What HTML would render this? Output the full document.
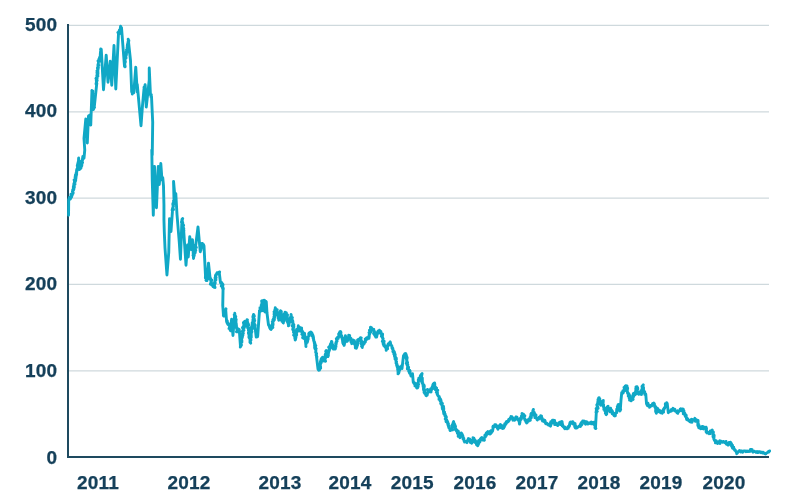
<!DOCTYPE html>
<html><head><meta charset="utf-8"><title>Chart</title>
<style>
html,body{margin:0;padding:0;background:#fff;}
body{width:802px;height:500px;overflow:hidden;position:relative;}
svg{position:absolute;left:0;top:0;display:block}
text{font-family:"Liberation Sans",sans-serif;font-weight:bold;font-size:19px;letter-spacing:0.2px;fill:#15405a;stroke:#15405a;stroke-width:0.25px}
</style></head><body>
<svg width="802" height="500" viewBox="0 0 802 500">
<rect width="802" height="500" fill="#ffffff"/>
<g stroke="#cfd9dd" stroke-width="1.3" fill="none">
<line x1="68" x2="769" y1="25.4" y2="25.4"/>
<line x1="68" x2="769" y1="111.8" y2="111.8"/>
<line x1="68" x2="769" y1="198.1" y2="198.1"/>
<line x1="68" x2="769" y1="284.4" y2="284.4"/>
<line x1="68" x2="769" y1="370.8" y2="370.8"/>
</g>
<path d="M68 24 V457 H769" stroke="#1e4a5f" stroke-width="2" fill="none" stroke-linejoin="miter"/>
<path d="M68.55 215.2 L68.70 199.5 L69.23 198.8 L69.23 198.5 L69.60 197.3 L70.19 199.2 L70.45 198.8 L70.75 197.7 L71.35 195.0 L71.54 197.1 L70.97 194.2 L72.00 195.7 L71.92 194.3 L72.19 195.1 L72.05 194.9 L72.57 194.1 L73.20 192.6 L73.10 193.4 L72.43 191.6 L72.78 191.4 L73.03 192.0 L72.65 190.3 L73.63 189.8 L73.34 188.9 L72.75 189.8 L73.97 188.9 L73.42 186.1 L73.33 187.8 L73.73 188.0 L74.19 185.3 L74.34 187.2 L74.21 187.5 L73.65 185.6 L74.03 185.6 L73.87 183.9 L74.27 182.9 L73.79 184.9 L74.79 181.3 L75.02 184.1 L74.10 179.8 L75.00 181.5 L74.79 181.4 L75.56 179.2 L75.31 181.2 L75.51 179.8 L75.66 180.8 L75.72 179.1 L76.10 176.2 L75.88 178.6 L75.50 174.8 L75.11 177.5 L76.32 175.8 L76.64 174.0 L76.02 175.6 L76.43 174.9 L76.71 174.1 L76.17 172.8 L76.43 174.2 L76.50 172.5 L76.97 171.0 L76.50 173.2 L76.71 169.5 L76.73 170.4 L76.52 171.6 L76.51 171.0 L77.36 168.2 L77.54 169.9 L77.34 168.5 L77.60 167.8 L77.56 166.9 L77.54 167.3 L77.85 167.0 L77.84 167.9 L77.65 164.7 L78.25 164.6 L78.13 163.8 L77.26 165.8 L78.24 161.9 L78.33 163.1 L78.58 161.7 L78.19 162.0 L78.63 163.5 L78.54 160.1 L78.64 160.0 L78.75 159.7 L78.64 158.0 L78.45 161.9 L79.38 161.2 L79.68 162.7 L79.03 160.3 L79.50 162.4 L78.53 164.5 L78.84 165.0 L78.90 165.0 L80.06 164.9 L79.74 165.1 L79.81 166.7 L80.45 166.1 L79.80 167.9 L79.54 169.5 L79.98 168.8 L80.45 168.4 L80.25 168.7 L80.62 168.5 L79.87 166.0 L80.20 168.0 L80.11 165.6 L81.11 167.7 L80.55 167.5 L80.58 165.3 L81.79 165.7 L81.89 163.4 L81.30 165.0 L82.05 161.1 L81.36 162.8 L81.88 162.9 L81.42 163.6 L82.53 162.7 L81.98 162.6 L82.57 159.6 L82.32 160.1 L82.28 161.1 L82.50 159.0 L82.85 156.5 L83.83 156.4 L84.00 158.2 L84.75 150.0 L84.00 138.5 L85.80 119.0 L87.30 143.0 L88.50 116.0 L88.61 116.1 L89.53 115.5 L89.55 115.2 L90.75 125.0 L91.95 90.5 L92.54 91.1 L92.49 91.4 L92.79 93.7 L92.56 91.7 L91.84 90.8 L92.76 91.2 L92.39 92.5 L92.45 94.2 L92.62 94.2 L92.61 97.5 L93.06 96.5 L92.22 96.2 L93.21 96.3 L92.61 95.5 L93.23 99.1 L93.30 98.4 L92.57 99.1 L92.85 97.5 L92.95 100.9 L92.93 99.3 L93.25 99.1 L93.51 100.0 L93.56 99.5 L92.72 101.6 L93.45 103.7 L93.27 101.0 L93.50 104.1 L94.05 105.2 L93.94 105.6 L94.14 106.8 L93.14 106.3 L94.53 107.3 L93.88 106.4 L93.43 109.5 L94.20 107.7 L96.75 83.7 L96.00 83.7 L96.86 83.8 L96.41 81.7 L96.15 84.5 L96.62 82.4 L96.29 80.2 L96.72 81.1 L96.37 80.2 L96.37 78.6 L96.62 80.3 L96.31 77.7 L97.17 80.6 L95.98 78.5 L97.03 78.0 L97.08 78.7 L97.18 76.2 L97.45 73.5 L96.82 75.6 L97.89 76.3 L96.96 72.6 L97.37 74.1 L96.97 72.8 L97.84 75.1 L96.95 70.8 L97.95 73.8 L97.94 73.4 L97.79 69.7 L97.45 67.9 L98.02 69.7 L97.83 68.4 L98.09 69.3 L98.09 69.0 L98.39 67.4 L97.80 67.3 L98.20 66.0 L98.33 66.1 L98.40 65.7 L97.89 65.1 L98.88 65.2 L98.45 64.8 L98.20 64.3 L98.68 61.0 L99.01 61.6 L97.98 61.0 L99.48 60.5 L98.36 60.8 L99.18 59.8 L99.11 60.8 L99.39 61.5 L99.41 59.2 L99.62 60.7 L99.30 58.2 L98.98 59.0 L99.81 57.1 L100.05 56.4 L100.10 57.0 L100.64 55.5 L99.86 56.7 L100.86 54.9 L100.52 53.8 L100.28 54.9 L100.46 51.9 L100.94 53.2 L100.61 53.2 L100.92 52.8 L100.84 51.5 L101.20 50.5 L100.78 49.0 L100.56 49.8 L101.25 49.2 L103.50 89.7 L106.20 55.2 L108.00 82.2 L110.25 61.2 L111.75 85.2 L114.00 45.5 L115.80 89.0 L118.50 33.5 L117.93 32.5 L119.19 31.8 L119.17 32.8 L118.86 31.4 L119.86 33.4 L119.53 32.0 L119.39 30.0 L120.72 30.7 L120.56 27.1 L120.10 29.6 L120.61 26.2 L120.71 27.2 L121.50 27.5 L124.50 66.5 L124.67 66.0 L124.92 66.3 L125.17 66.8 L124.57 63.0 L124.41 62.8 L124.91 63.5 L124.34 63.6 L125.04 61.1 L124.99 61.8 L124.88 61.5 L125.39 61.9 L125.05 60.5 L124.59 59.9 L125.47 58.5 L125.60 57.4 L125.04 58.8 L125.53 57.9 L125.97 58.2 L125.45 57.1 L125.84 56.5 L126.05 57.1 L125.46 54.8 L125.77 54.8 L126.09 53.4 L126.25 53.6 L126.11 54.4 L126.21 55.6 L126.46 54.1 L125.68 53.6 L126.64 50.9 L127.41 52.0 L127.19 51.2 L127.13 51.2 L126.76 50.4 L126.45 49.9 L126.55 50.2 L127.82 48.6 L127.10 47.6 L127.17 48.7 L127.33 45.9 L127.58 47.1 L128.06 45.0 L127.44 47.4 L127.33 45.2 L127.29 46.1 L127.44 44.7 L127.99 42.6 L127.77 44.5 L128.17 41.6 L128.03 41.9 L128.43 43.3 L128.85 40.4 L128.43 40.5 L128.16 39.2 L128.25 39.5 L130.50 60.5 L131.70 92.0 L132.94 90.1 L132.26 94.0 L132.63 90.8 L133.80 92.7 L135.75 67.2 L137.25 92.0 L137.25 84.5 L141.00 125.7 L142.50 105.5 L144.00 89.0 L143.97 89.9 L144.17 88.0 L144.01 87.5 L144.02 87.2 L144.87 86.6 L144.81 86.7 L145.11 84.7 L145.20 85.2 L146.25 107.0 L149.25 80.0 L149.25 68.0 L150.45 95.0 L151.34 94.8 L150.93 96.6 L150.96 95.6 L151.50 96.5 L152.70 122.0 L152.25 155.0 L151.80 150.0 L152.25 180.0 L153.30 215.2 L154.50 166.5 L156.45 207.7 L158.25 166.5 L159.30 184.5 L160.80 163.5 L162.00 180.0 L162.75 177.7 L163.50 186.0 L163.95 205.0 L163.95 220.0 L164.30 232.0 L165.00 248.0 L166.95 275.0 L168.75 252.5 L169.50 218.7 L171.00 231.5 L172.50 210.5 L172.43 209.0 L172.85 209.8 L173.51 209.6 L172.79 207.7 L172.11 210.2 L173.00 206.9 L173.16 207.2 L173.22 206.2 L173.45 206.1 L172.86 203.4 L172.87 205.0 L173.61 203.3 L173.68 203.3 L173.62 204.3 L173.53 203.6 L173.63 200.9 L173.50 202.5 L174.09 201.4 L174.11 200.0 L173.71 202.6 L174.00 200.0 L173.55 181.5 L174.75 195.0 L174.95 194.8 L175.40 196.0 L175.26 194.9 L175.80 193.5 L177.00 214.5 L179.25 242.0 L180.45 259.2 L181.95 219.5 L182.02 220.0 L182.68 218.5 L181.48 222.0 L182.20 222.3 L182.47 222.5 L182.32 220.8 L182.24 224.7 L182.01 222.4 L182.76 222.6 L182.87 226.4 L183.57 225.3 L182.58 224.9 L183.14 226.6 L182.53 225.4 L183.17 227.3 L183.07 226.1 L183.41 227.4 L183.27 228.4 L183.80 228.6 L183.30 231.0 L183.22 230.9 L183.90 230.6 L183.52 232.7 L183.75 231.5 L186.00 265.2 L187.50 245.0 L188.25 257.0 L189.75 236.7 L191.25 249.5 L192.45 239.7 L193.50 258.5 L193.66 257.9 L193.67 255.9 L193.90 256.3 L193.04 255.3 L194.02 256.0 L194.36 254.9 L193.84 254.7 L193.54 255.0 L194.24 253.3 L194.27 254.4 L194.15 253.3 L195.17 252.8 L195.38 251.2 L194.67 250.8 L195.16 251.2 L194.03 249.1 L195.23 250.7 L195.80 250.2 L195.18 249.2 L195.31 249.5 L194.75 249.8 L194.53 247.1 L195.27 247.9 L196.30 247.5 L195.48 246.0 L195.33 245.0 L195.75 245.0 L198.00 227.0 L200.25 251.7 L200.59 250.6 L200.45 250.8 L200.88 250.1 L200.55 250.3 L200.63 250.1 L201.36 247.6 L200.48 248.9 L201.09 249.1 L201.69 245.7 L201.49 247.3 L201.16 246.6 L201.70 244.2 L201.28 245.5 L201.52 245.3 L201.42 245.2 L200.86 243.9 L201.75 243.5 L202.40 243.4 L202.35 245.7 L203.51 244.5 L203.54 244.6 L203.64 247.2 L204.00 245.7 L205.50 276.0 L205.38 277.8 L205.80 277.2 L206.45 277.6 L205.90 280.2 L206.53 277.9 L206.70 277.9 L206.56 280.1 L206.21 280.6 L207.00 280.5 L208.50 263.2 L210.00 277.5 L209.51 278.8 L210.03 277.7 L210.72 278.6 L210.34 279.6 L211.26 280.6 L210.90 280.5 L210.98 282.3 L211.80 280.1 L210.33 284.2 L211.42 282.5 L211.64 284.0 L211.50 283.5 L211.38 283.6 L212.51 284.4 L211.99 283.6 L211.92 285.1 L212.83 285.3 L213.02 286.5 L213.44 285.5 L213.63 286.8 L214.20 287.2 L214.57 286.8 L215.02 287.5 L214.24 284.9 L215.24 283.1 L214.53 284.0 L214.07 284.9 L214.67 284.3 L214.87 281.4 L214.08 284.1 L214.98 283.2 L215.14 282.4 L214.94 282.8 L214.94 281.8 L214.84 281.2 L215.93 279.8 L215.24 279.9 L215.06 277.7 L215.82 278.6 L215.72 278.4 L216.13 277.4 L215.43 276.5 L215.75 277.4 L215.56 275.7 L216.11 275.2 L215.45 275.4 L216.00 274.5 L216.45 274.6 L217.06 272.7 L216.99 273.1 L217.50 273.0 L218.48 273.9 L218.57 272.3 L219.65 272.0 L219.30 273.0 L220.50 282.7 L221.48 282.5 L221.82 282.6 L222.00 283.5 L221.29 286.2 L222.37 284.0 L221.99 284.9 L222.38 287.7 L222.78 284.2 L222.98 284.6 L222.67 286.4 L222.75 288.9 L222.11 286.5 L223.17 289.8 L223.31 288.1 L223.05 289.5 L222.75 305.5 L223.50 316.0 L223.93 316.1 L223.73 312.9 L224.31 315.6 L223.39 315.1 L224.56 313.9 L224.16 315.4 L224.73 312.4 L224.71 313.3 L224.74 313.1 L225.02 311.7 L225.13 311.1 L226.01 308.8 L225.75 310.0 L226.50 320.5 L226.50 321.3 L227.35 321.6 L227.13 320.8 L227.61 322.9 L226.82 322.4 L227.98 324.5 L227.96 323.7 L228.13 324.4 L228.23 323.5 L228.75 325.0 L228.64 324.8 L229.28 324.7 L229.42 325.0 L229.44 325.8 L229.51 328.8 L229.59 327.1 L229.01 328.5 L229.91 328.2 L230.01 328.8 L230.42 330.5 L230.25 330.2 L230.56 330.7 L230.39 329.0 L230.35 328.5 L229.86 328.1 L230.62 327.5 L230.69 326.3 L230.71 327.4 L230.05 328.5 L230.19 325.6 L231.80 326.4 L231.13 322.8 L231.03 325.0 L230.42 324.5 L231.45 324.3 L231.14 323.0 L231.26 323.1 L231.32 322.2 L231.59 319.3 L231.98 321.2 L231.75 320.5 L232.95 335.5 L234.75 313.7 L234.80 313.3 L234.94 315.4 L235.74 316.6 L234.24 314.8 L235.68 317.1 L235.46 317.7 L234.91 316.5 L234.90 318.6 L234.93 316.3 L236.16 320.8 L235.17 318.4 L235.22 319.9 L235.55 321.6 L236.17 319.5 L235.80 320.5 L235.65 321.6 L235.57 322.5 L235.11 320.7 L235.67 321.8 L236.06 323.6 L236.15 324.7 L235.88 323.8 L236.16 323.0 L236.50 326.1 L236.29 325.9 L236.43 327.6 L236.72 327.8 L237.07 327.8 L236.47 327.4 L236.36 327.7 L237.45 330.7 L237.03 329.5 L237.19 331.3 L236.43 331.8 L237.00 331.0 L237.63 330.0 L237.94 331.9 L238.21 329.2 L238.46 329.1 L239.25 329.5 L240.45 346.0 L240.30 347.1 L241.45 345.0 L240.88 345.7 L241.01 343.4 L241.20 345.2 L241.09 344.3 L241.07 343.0 L241.77 342.4 L241.32 340.0 L241.22 341.3 L241.86 340.2 L241.90 342.1 L241.13 339.8 L241.88 341.0 L241.50 338.5 L241.61 337.9 L242.34 337.6 L242.25 337.0 L242.43 336.5 L242.95 335.1 L241.72 334.8 L242.20 334.8 L242.43 333.4 L242.17 334.3 L243.28 333.4 L242.71 333.7 L242.79 332.6 L243.19 331.9 L242.16 331.4 L242.67 331.0 L242.85 331.2 L243.96 330.2 L242.77 328.4 L242.49 327.5 L243.50 326.5 L242.67 327.3 L243.73 325.9 L243.40 326.2 L244.16 326.9 L244.09 328.1 L243.82 325.7 L244.38 326.9 L244.06 324.2 L243.96 324.3 L243.47 323.0 L243.45 322.4 L244.35 323.8 L244.20 322.0 L244.87 321.2 L243.67 323.9 L244.87 325.5 L244.17 326.1 L244.95 325.1 L244.97 325.2 L244.42 326.6 L244.58 324.7 L245.25 326.5 L245.15 325.4 L245.63 326.0 L245.39 325.1 L246.18 324.2 L245.98 325.0 L246.70 323.4 L246.48 322.6 L246.25 324.0 L246.05 323.2 L246.71 323.0 L247.04 319.7 L247.42 320.0 L247.05 320.5 L247.06 320.3 L247.08 321.8 L247.07 322.3 L247.37 323.2 L246.65 323.2 L247.54 324.7 L247.65 322.1 L248.12 325.0 L248.39 323.9 L248.65 325.3 L248.20 325.8 L247.56 326.1 L248.45 328.2 L248.51 329.1 L248.25 328.0 L247.66 327.9 L248.12 328.3 L248.70 328.6 L248.43 330.3 L248.55 330.7 L248.98 331.2 L248.48 332.5 L249.40 330.4 L249.34 332.6 L248.84 331.3 L248.47 333.5 L249.41 333.5 L249.83 335.6 L248.70 334.1 L249.71 336.0 L248.88 336.2 L249.79 337.3 L249.35 337.6 L249.94 337.8 L248.96 337.4 L249.96 338.8 L250.19 339.0 L249.88 338.9 L250.21 339.7 L249.95 342.2 L250.74 343.1 L250.20 341.5 L250.50 341.8 L250.25 342.4 L249.96 339.9 L250.99 340.0 L250.68 339.6 L250.64 338.3 L251.06 336.5 L250.26 337.1 L250.43 336.2 L251.25 337.4 L251.26 334.6 L250.72 336.4 L250.71 333.4 L251.21 333.8 L250.34 333.6 L250.59 333.7 L250.78 334.0 L250.98 331.8 L251.91 331.4 L251.69 332.4 L250.89 331.3 L251.35 329.9 L251.84 329.0 L251.70 329.5 L251.48 328.2 L251.02 327.4 L252.42 328.7 L251.56 327.7 L252.08 324.9 L252.19 327.8 L252.73 327.0 L252.02 326.8 L252.57 326.2 L252.16 323.0 L252.34 322.6 L252.02 324.2 L253.03 321.0 L253.16 323.0 L253.06 320.7 L253.49 323.8 L252.86 320.9 L253.22 320.5 L252.91 321.3 L253.24 318.2 L253.25 318.7 L253.71 319.0 L252.95 319.4 L253.90 318.1 L253.42 316.6 L253.82 318.0 L252.85 316.8 L253.54 314.4 L253.50 315.2 L254.36 316.2 L254.09 315.3 L253.03 317.5 L253.83 316.3 L253.76 317.2 L253.57 318.7 L253.70 319.2 L254.24 318.6 L254.20 319.0 L254.16 321.8 L254.51 320.5 L254.72 320.7 L254.60 320.2 L254.09 321.6 L254.14 324.5 L254.81 324.9 L254.22 325.1 L255.26 325.3 L254.69 324.4 L254.88 327.2 L254.62 325.1 L255.07 326.5 L255.00 326.5 L256.20 337.0 L257.39 336.9 L257.39 336.2 L257.70 336.2 L259.50 310.7 L259.40 311.9 L260.83 311.0 L259.96 308.0 L259.96 307.8 L261.00 308.5 L260.36 308.5 L261.78 308.0 L261.17 305.3 L261.71 304.4 L261.39 305.2 L261.82 305.6 L261.71 304.6 L261.85 303.9 L261.93 302.7 L261.80 301.4 L262.13 305.1 L262.30 301.1 L261.64 301.0 L262.69 300.7 L262.50 301.0 L262.95 310.7 L262.98 310.7 L262.65 308.8 L263.24 310.7 L262.41 307.8 L264.07 306.9 L263.30 306.6 L263.34 307.6 L262.91 306.6 L264.20 305.3 L263.93 305.1 L263.55 303.6 L264.14 305.2 L264.02 303.2 L263.55 304.4 L263.55 304.0 L263.97 302.1 L264.00 300.3 L263.52 300.9 L264.48 301.1 L264.74 300.6 L264.30 300.5 L264.90 311.2 L264.45 309.5 L265.20 311.9 L264.78 310.7 L265.29 310.1 L265.27 309.4 L265.07 309.5 L264.81 306.7 L265.17 308.5 L265.16 305.6 L265.10 305.8 L265.43 305.4 L265.37 304.6 L265.64 304.8 L265.99 304.4 L265.17 304.1 L265.72 302.7 L265.48 303.6 L266.06 301.5 L266.25 301.7 L267.00 313.0 L268.50 325.0 L269.20 325.1 L269.49 325.4 L268.67 324.7 L269.87 328.0 L270.05 327.6 L269.81 328.0 L270.39 328.9 L270.93 329.4 L271.20 328.7 L270.82 326.2 L271.42 329.0 L271.71 326.9 L271.54 326.5 L271.95 326.6 L272.05 327.6 L272.89 327.5 L272.73 326.9 L272.50 324.7 L272.29 324.0 L272.47 323.6 L273.07 325.0 L273.00 322.7 L272.32 321.8 L273.00 321.7 L272.80 320.1 L273.56 318.6 L274.22 320.2 L273.44 319.7 L273.64 320.8 L273.52 318.9 L274.35 317.6 L274.52 318.8 L273.93 316.9 L274.39 315.8 L274.31 314.8 L274.73 316.9 L274.69 314.2 L274.03 314.0 L274.88 312.8 L274.26 315.5 L274.45 312.4 L275.07 314.9 L274.03 311.7 L275.31 311.0 L274.81 313.2 L274.80 310.0 L275.45 308.2 L275.59 308.6 L275.25 309.2 L275.24 307.7 L275.94 310.1 L276.75 310.0 L276.87 311.3 L277.22 309.7 L276.32 312.4 L277.40 313.9 L276.57 313.2 L277.28 312.2 L276.95 314.6 L276.85 313.0 L277.90 314.1 L277.64 313.1 L278.62 315.9 L277.98 316.6 L277.84 315.1 L278.38 316.1 L279.10 317.3 L278.12 318.1 L279.04 319.9 L278.49 318.9 L278.48 317.3 L279.00 319.7 L278.76 320.2 L279.24 317.3 L279.49 318.5 L279.90 318.4 L279.81 316.4 L279.78 315.7 L279.68 316.4 L279.66 316.8 L280.10 316.4 L279.61 314.9 L279.71 313.4 L279.99 313.5 L280.34 315.4 L279.82 313.6 L280.12 311.5 L279.92 312.0 L280.19 313.0 L280.50 310.7 L279.80 312.4 L280.81 311.7 L281.05 312.4 L280.97 313.0 L280.72 311.1 L281.36 311.5 L281.14 314.4 L281.08 313.7 L282.11 317.0 L282.03 315.5 L280.85 314.3 L281.37 316.0 L281.90 316.4 L281.66 319.6 L282.14 318.0 L282.50 318.4 L281.74 320.8 L282.23 319.6 L281.82 320.2 L281.74 318.5 L282.72 321.4 L281.94 321.4 L282.54 321.4 L282.58 320.8 L283.05 322.7 L283.36 323.0 L283.44 321.7 L283.36 320.6 L283.64 320.8 L283.46 320.2 L283.35 319.6 L283.91 321.4 L284.59 319.2 L283.26 319.7 L284.31 318.5 L284.60 319.3 L283.69 317.6 L284.36 315.3 L283.94 316.3 L284.28 314.8 L284.67 314.8 L284.13 313.9 L285.36 315.1 L285.22 313.1 L285.17 313.2 L285.00 312.2 L284.88 313.2 L285.78 313.8 L286.35 312.7 L286.48 316.3 L286.23 316.7 L285.88 314.7 L286.36 314.7 L286.50 316.0 L286.88 316.5 L287.52 314.8 L286.83 319.6 L287.14 318.7 L286.98 318.7 L286.84 318.8 L287.28 319.6 L287.06 320.2 L287.53 320.4 L287.20 321.5 L288.13 321.8 L287.70 322.5 L287.87 321.8 L288.70 323.6 L287.93 323.1 L288.38 324.2 L288.12 323.3 L288.79 324.7 L288.23 324.0 L288.75 325.7 L288.37 325.8 L289.10 324.9 L288.66 324.1 L289.05 323.7 L288.95 323.6 L288.72 323.9 L289.50 322.1 L289.36 322.8 L289.49 321.8 L290.52 321.5 L290.11 319.8 L290.42 318.8 L290.16 320.5 L290.41 317.5 L290.79 319.5 L289.73 318.6 L291.14 316.5 L291.13 315.4 L291.09 318.3 L290.76 316.9 L291.00 315.2 L291.09 314.4 L291.25 316.0 L291.35 317.4 L291.71 317.4 L292.42 317.6 L291.85 318.6 L291.70 318.4 L292.15 320.5 L292.00 318.4 L292.19 319.9 L292.50 320.5 L292.10 322.2 L292.68 322.0 L292.71 320.7 L292.95 322.4 L292.93 322.5 L292.44 321.7 L293.35 324.8 L292.76 324.5 L292.26 326.1 L293.39 324.7 L292.77 326.7 L293.83 324.5 L292.95 327.2 L293.74 327.6 L293.88 325.9 L292.70 329.3 L292.85 329.8 L293.78 330.7 L293.44 332.1 L294.17 330.5 L293.53 330.3 L293.85 331.1 L294.13 330.9 L294.00 332.5 L294.11 333.6 L294.04 335.3 L294.04 335.3 L293.57 335.2 L294.36 335.1 L294.27 334.9 L294.31 335.5 L294.45 334.2 L294.56 336.3 L294.80 336.2 L294.84 338.6 L295.57 337.8 L295.48 339.8 L295.20 339.2 L295.16 340.0 L295.82 338.1 L295.42 337.2 L295.71 337.7 L296.04 336.5 L296.03 336.1 L296.09 337.0 L295.46 336.1 L295.76 333.5 L296.70 334.9 L296.31 332.6 L295.99 332.5 L296.65 332.6 L296.93 332.6 L296.91 330.9 L296.67 332.4 L296.50 331.5 L296.66 329.3 L297.71 329.3 L297.00 329.5 L297.87 328.6 L297.55 328.9 L297.33 329.0 L298.01 328.8 L298.31 325.8 L298.47 327.5 L298.50 326.5 L298.50 328.7 L299.13 328.0 L299.48 327.0 L298.65 327.0 L298.90 329.6 L298.84 329.4 L299.21 330.1 L299.22 330.9 L300.00 331.0 L300.27 331.1 L300.72 330.3 L300.60 330.0 L301.50 329.5 L301.63 327.9 L301.55 329.5 L301.06 331.4 L301.73 330.6 L302.22 330.7 L301.88 332.2 L302.65 331.8 L302.68 332.6 L301.81 334.2 L302.68 333.1 L303.11 335.1 L303.33 336.0 L302.95 335.3 L302.99 337.0 L302.64 337.7 L303.32 337.8 L303.90 335.5 L303.64 338.4 L303.75 338.5 L304.50 333.2 L306.00 346.0 L305.93 344.4 L305.91 346.6 L306.02 342.5 L306.43 342.8 L306.23 343.2 L307.14 342.2 L307.62 341.1 L306.52 341.6 L307.31 342.5 L307.50 340.1 L306.95 338.8 L307.34 341.4 L307.77 338.4 L307.67 340.2 L307.66 336.9 L308.23 338.8 L307.94 339.8 L308.14 336.9 L307.90 338.2 L307.60 337.8 L308.25 336.8 L308.91 335.9 L308.72 333.7 L309.11 334.7 L309.00 334.0 L309.10 333.0 L310.80 332.0 L310.41 333.8 L311.37 332.4 L312.07 333.4 L312.00 334.0 L312.15 335.4 L311.84 335.7 L312.19 335.1 L312.57 334.5 L313.28 336.2 L312.57 334.7 L312.80 336.3 L313.29 338.2 L313.08 338.2 L313.55 339.2 L313.44 337.2 L313.21 338.2 L313.85 340.2 L313.62 340.7 L313.74 340.8 L314.25 341.5 L314.60 342.4 L314.91 344.3 L314.29 342.2 L314.67 342.5 L314.91 346.1 L314.20 342.4 L314.98 343.6 L314.97 345.5 L314.59 347.9 L315.79 345.6 L314.76 347.4 L314.54 345.4 L315.25 345.9 L315.70 348.5 L315.10 348.9 L316.21 348.7 L315.59 348.1 L315.85 350.5 L315.87 350.6 L315.69 352.4 L315.75 351.5 L315.82 351.5 L316.06 352.7 L316.57 354.9 L316.37 353.5 L316.50 354.8 L316.38 355.0 L316.04 355.0 L316.94 356.9 L316.50 356.5 L318.00 369.2 L318.67 370.2 L318.82 370.0 L319.50 370.0 L319.84 367.6 L319.42 369.2 L320.23 367.5 L320.49 366.1 L320.66 368.2 L319.92 366.3 L320.06 366.0 L319.77 365.8 L319.83 366.6 L320.44 364.5 L320.11 363.9 L320.21 364.4 L320.39 362.2 L321.18 362.8 L320.96 361.4 L320.50 361.2 L320.82 361.2 L321.49 361.9 L321.39 359.8 L321.25 361.0 L321.00 359.5 L321.66 358.3 L321.74 358.5 L322.17 357.9 L322.65 358.9 L322.50 357.2 L323.15 357.5 L322.63 359.6 L322.72 360.0 L323.74 359.5 L323.86 360.9 L323.68 359.2 L324.56 358.9 L324.21 360.3 L324.75 361.0 L324.52 361.1 L324.71 359.5 L325.55 361.2 L324.41 358.8 L325.14 358.8 L325.40 358.4 L325.62 357.2 L325.41 357.9 L325.20 356.1 L325.02 356.7 L325.24 355.3 L325.85 353.5 L325.69 354.5 L325.15 354.9 L325.94 353.4 L325.46 353.9 L326.05 353.3 L326.49 353.4 L326.91 352.1 L326.01 351.0 L326.25 350.5 L326.00 350.6 L325.75 351.5 L326.80 351.9 L326.61 353.5 L326.61 354.5 L326.25 353.4 L326.81 353.2 L327.46 356.0 L327.58 353.9 L327.41 356.0 L327.51 356.0 L327.75 356.5 L327.14 355.4 L328.42 355.4 L327.89 356.5 L328.00 353.7 L328.30 354.9 L328.39 352.9 L328.53 352.8 L327.84 352.1 L328.80 352.1 L328.54 350.4 L328.52 351.9 L329.54 349.8 L329.23 350.8 L329.55 348.5 L328.80 347.3 L329.60 349.3 L328.91 347.0 L329.25 347.5 L328.67 347.2 L329.81 347.2 L329.98 345.7 L330.06 346.4 L330.70 345.7 L330.35 344.2 L330.86 343.7 L330.82 343.4 L330.83 343.5 L330.95 344.6 L331.47 343.9 L331.26 343.3 L331.50 341.5 L331.93 342.9 L331.89 341.8 L331.91 342.8 L331.78 344.7 L331.53 342.1 L332.09 343.9 L332.70 344.8 L332.74 347.0 L332.48 346.2 L333.43 346.8 L332.29 348.0 L333.80 348.0 L332.75 348.4 L333.70 347.8 L333.30 349.0 L333.75 349.0 L334.62 348.1 L335.30 347.7 L335.25 349.0 L335.45 348.5 L335.19 346.7 L334.93 348.2 L335.04 349.1 L335.68 345.3 L336.03 346.5 L335.75 345.1 L335.70 344.8 L336.37 342.4 L336.14 344.3 L336.26 342.9 L336.22 343.0 L335.67 343.6 L336.01 342.3 L337.08 341.2 L336.54 339.9 L337.03 339.9 L336.75 340.0 L336.32 338.6 L337.04 339.7 L337.81 338.4 L337.46 337.4 L337.98 338.0 L338.43 336.9 L338.25 337.0 L338.27 338.6 L337.80 337.9 L338.65 337.0 L338.83 335.2 L338.65 334.0 L339.81 333.7 L339.36 334.8 L339.40 332.6 L340.54 331.5 L340.07 332.9 L340.20 331.7 L339.94 331.7 L340.76 334.1 L340.97 332.2 L340.96 332.6 L340.68 333.2 L341.14 335.1 L340.78 336.2 L341.74 337.2 L341.54 336.1 L341.43 335.8 L341.65 335.7 L342.26 337.7 L342.18 339.0 L342.00 338.5 L342.06 338.6 L342.39 339.1 L342.75 337.9 L342.40 338.8 L342.55 340.8 L342.86 343.0 L343.50 343.3 L343.35 341.7 L343.22 344.0 L343.29 343.2 L343.51 343.6 L344.18 344.1 L343.95 344.5 L344.12 345.4 L344.52 343.7 L343.90 342.7 L344.07 343.6 L344.18 342.9 L344.27 343.4 L345.37 341.9 L345.48 339.5 L344.35 339.2 L345.42 340.2 L344.47 338.8 L345.27 338.4 L345.40 337.6 L345.41 335.7 L345.75 337.0 L346.53 339.3 L345.85 337.6 L346.72 338.8 L346.05 339.6 L346.74 339.5 L347.33 341.3 L347.53 340.8 L347.25 340.7 L348.04 339.9 L347.81 339.4 L347.51 340.2 L347.39 338.1 L348.25 338.5 L348.67 337.6 L348.67 335.3 L348.78 337.0 L349.76 337.3 L348.93 335.5 L349.50 335.5 L349.67 335.4 L349.43 337.1 L349.50 338.0 L350.19 338.3 L350.96 338.4 L350.23 338.1 L350.76 339.4 L350.66 338.0 L350.93 339.1 L350.84 341.7 L351.03 340.7 L351.38 339.2 L351.28 342.4 L351.07 341.9 L351.95 342.6 L352.13 343.2 L351.75 343.7 L351.76 341.2 L352.12 343.1 L352.06 340.7 L352.00 343.1 L352.27 340.4 L353.12 340.4 L352.28 341.1 L353.25 340.0 L353.19 342.0 L354.22 340.4 L353.27 341.4 L353.64 341.4 L353.96 341.5 L354.38 343.9 L355.22 342.1 L354.63 343.0 L354.75 344.5 L355.23 345.0 L355.30 345.1 L355.35 348.0 L355.63 345.3 L355.55 346.0 L356.00 347.5 L356.39 347.5 L356.25 348.2 L355.88 347.6 L356.37 348.2 L356.40 348.0 L356.90 346.9 L356.34 343.7 L357.58 344.2 L357.53 342.9 L357.50 345.5 L357.25 344.6 L357.66 343.4 L357.98 343.3 L357.57 342.2 L358.13 341.4 L357.62 339.8 L358.02 340.6 L357.57 340.2 L358.50 340.0 L358.73 339.3 L358.39 340.0 L359.66 338.6 L360.26 339.0 L359.72 339.2 L360.45 337.7 L360.41 338.9 L361.22 337.9 L360.39 338.6 L360.48 339.3 L361.05 341.2 L361.15 342.1 L361.48 340.5 L360.99 341.0 L361.27 342.0 L361.12 343.8 L361.43 343.5 L361.11 342.3 L361.78 343.9 L361.89 344.9 L361.63 345.1 L361.50 346.0 L361.85 344.7 L361.87 345.1 L361.95 346.3 L362.25 347.5 L362.15 347.0 L362.00 346.1 L362.52 346.2 L362.27 346.0 L363.37 344.3 L363.34 342.5 L363.72 344.3 L363.97 342.2 L363.72 343.4 L364.28 343.5 L364.50 342.2 L364.55 341.8 L364.99 341.9 L365.35 342.1 L365.31 339.8 L365.48 340.9 L366.05 339.9 L365.27 338.9 L366.38 338.8 L366.23 338.3 L366.75 337.7 L367.20 339.2 L367.47 337.6 L368.25 338.5 L367.94 338.4 L369.25 336.5 L368.99 338.4 L368.93 337.9 L369.27 334.3 L369.11 336.8 L369.52 333.1 L368.96 336.0 L369.56 334.2 L369.80 333.5 L369.75 333.2 L369.03 332.7 L370.51 331.1 L370.33 332.0 L370.60 332.4 L369.82 331.3 L369.42 330.2 L370.63 329.5 L370.46 327.1 L370.50 328.7 L371.46 329.9 L371.15 328.4 L371.45 327.7 L373.10 330.5 L372.75 330.2 L373.78 329.3 L373.56 331.2 L374.25 331.0 L373.57 333.6 L374.58 331.9 L375.32 334.6 L374.80 335.1 L375.40 334.5 L375.14 334.5 L374.97 334.3 L376.01 333.7 L374.57 335.0 L375.49 336.3 L376.33 336.7 L375.75 337.0 L375.81 336.4 L376.07 335.2 L376.33 335.0 L376.57 337.1 L377.33 333.6 L377.07 334.9 L377.24 334.2 L377.63 333.7 L377.25 332.5 L378.15 333.2 L378.00 331.2 L378.75 330.6 L378.57 331.9 L379.92 331.2 L379.50 330.2 L379.29 332.0 L380.20 331.1 L380.33 331.6 L380.53 333.3 L380.90 331.4 L380.89 332.8 L380.54 332.8 L381.16 332.6 L380.72 333.2 L381.75 334.7 L381.40 336.4 L382.17 335.0 L382.59 334.1 L382.44 336.0 L382.40 336.8 L382.39 337.9 L381.93 336.4 L383.16 338.7 L382.92 338.7 L383.01 339.9 L382.34 341.3 L382.97 341.0 L382.81 340.9 L382.85 340.9 L384.16 341.1 L383.47 344.5 L383.19 344.0 L382.97 341.6 L384.35 344.4 L383.50 344.7 L384.00 345.2 L383.84 345.5 L384.36 344.7 L384.36 346.2 L384.54 346.1 L385.67 347.7 L386.15 347.7 L385.68 346.7 L385.74 347.7 L386.24 349.4 L386.25 349.7 L386.21 350.4 L386.52 347.6 L386.50 348.7 L387.60 348.8 L387.26 346.0 L386.54 348.0 L387.37 346.7 L388.15 344.6 L387.62 345.8 L388.23 345.6 L388.38 345.5 L387.87 344.6 L388.50 343.7 L389.00 343.5 L390.20 341.9 L389.44 343.8 L390.40 342.5 L390.75 344.5 L390.73 345.0 L390.81 345.0 L391.32 345.2 L391.83 345.7 L391.82 346.7 L392.47 347.8 L392.27 348.5 L392.07 348.2 L392.86 348.4 L392.64 349.5 L393.00 349.7 L392.55 348.9 L393.70 351.1 L392.91 351.6 L393.69 351.5 L393.88 351.2 L393.57 352.5 L394.37 351.9 L393.85 354.0 L394.70 353.1 L394.38 355.2 L394.54 356.7 L395.23 354.5 L395.08 355.9 L394.71 356.6 L395.17 355.9 L395.01 359.0 L395.64 359.4 L395.80 357.4 L395.50 359.6 L396.00 359.5 L396.24 357.9 L396.37 359.4 L396.24 359.1 L395.82 360.7 L396.57 361.8 L396.14 361.9 L396.02 363.2 L396.99 364.0 L397.24 365.7 L397.10 364.9 L396.58 365.0 L397.40 367.0 L396.85 365.7 L397.61 368.0 L397.50 367.0 L397.86 366.3 L397.69 369.9 L397.64 368.9 L398.32 368.4 L398.04 371.6 L398.41 369.9 L398.48 370.2 L397.90 371.8 L398.37 370.4 L398.61 372.8 L398.06 373.8 L398.70 373.0 L398.58 373.0 L399.07 372.1 L398.99 370.5 L399.30 369.8 L399.13 369.6 L399.20 370.2 L399.33 370.7 L399.81 369.9 L399.74 367.5 L399.81 367.2 L400.78 367.2 L400.20 367.0 L401.17 366.9 L400.41 368.1 L401.54 365.8 L401.92 366.2 L402.00 368.5 L403.50 355.7 L404.03 356.4 L404.15 354.8 L404.51 354.9 L404.86 353.7 L405.13 355.1 L405.75 353.5 L405.37 354.4 L405.36 353.8 L406.23 354.8 L405.84 355.8 L405.97 356.6 L406.28 356.9 L405.45 357.5 L406.62 356.2 L407.19 357.9 L406.25 358.3 L406.75 360.5 L406.80 361.4 L406.96 359.8 L406.58 359.7 L406.73 360.4 L406.71 362.3 L406.77 362.3 L406.24 363.4 L407.17 362.8 L407.57 362.4 L407.25 364.0 L407.86 364.7 L407.73 365.9 L407.18 365.3 L407.55 365.7 L407.66 366.6 L407.34 368.9 L407.90 368.5 L408.55 367.5 L407.85 368.3 L408.36 369.2 L408.63 367.1 L408.38 368.6 L408.90 370.6 L409.71 370.3 L408.79 371.5 L409.10 371.8 L408.65 370.0 L410.18 371.1 L409.50 373.0 L409.61 373.2 L410.31 373.3 L410.80 374.3 L410.99 375.5 L410.72 375.0 L410.72 375.1 L411.00 376.0 L411.08 373.8 L411.35 374.1 L412.00 375.9 L412.53 375.4 L412.50 373.7 L413.25 382.0 L413.94 383.4 L414.16 382.3 L413.95 383.0 L415.25 385.0 L414.75 384.2 L415.67 383.7 L414.92 385.9 L415.64 385.8 L415.61 386.3 L416.01 385.1 L416.55 387.6 L416.92 387.8 L416.73 386.6 L417.00 388.0 L417.50 387.9 L417.44 387.2 L418.16 386.7 L417.46 384.0 L417.68 387.7 L417.76 383.3 L417.57 383.3 L418.61 384.4 L418.32 384.2 L418.26 384.3 L418.26 381.9 L418.31 382.7 L418.40 381.2 L418.26 379.9 L418.64 380.8 L419.44 380.5 L419.00 380.2 L418.72 378.3 L419.25 379.0 L419.11 378.9 L419.23 378.5 L419.81 377.8 L419.88 378.2 L420.32 376.4 L421.07 376.4 L420.41 375.6 L420.99 375.1 L421.27 375.2 L421.20 374.5 L422.10 373.6 L421.39 377.3 L421.56 374.8 L420.80 376.9 L421.13 377.0 L422.33 378.0 L421.32 379.0 L422.35 379.9 L422.29 378.6 L422.07 381.0 L422.08 380.0 L421.60 381.7 L422.13 382.4 L421.97 382.4 L422.47 381.1 L422.18 383.3 L422.66 383.6 L423.00 383.5 L422.98 385.2 L423.13 385.0 L423.16 386.8 L424.16 385.5 L423.76 386.1 L423.68 385.8 L423.74 384.9 L423.22 386.9 L424.34 386.6 L423.42 388.9 L423.83 390.8 L424.29 389.1 L423.68 388.9 L424.85 389.8 L424.50 391.0 L424.06 392.4 L424.85 393.2 L425.02 393.0 L424.78 393.4 L425.06 392.6 L425.74 393.6 L426.28 393.3 L425.61 394.4 L426.00 395.5 L426.37 395.7 L426.00 394.2 L426.00 393.1 L427.23 394.7 L427.21 395.0 L427.52 393.0 L427.33 393.1 L428.44 392.0 L427.30 389.5 L428.34 389.8 L428.25 390.2 L428.49 391.8 L428.98 391.7 L429.17 391.7 L429.75 391.7 L430.00 391.3 L431.05 392.0 L430.70 388.7 L431.12 390.1 L431.30 390.7 L430.88 390.1 L432.14 387.1 L431.38 389.6 L432.00 388.0 L432.50 388.8 L432.83 385.0 L433.18 385.6 L432.69 385.4 L433.14 384.1 L433.20 386.2 L434.51 382.9 L433.95 384.2 L434.44 386.6 L433.93 384.7 L434.84 384.0 L434.44 387.4 L434.97 386.6 L435.49 386.8 L435.28 389.6 L435.75 388.0 L436.31 389.3 L435.97 388.7 L436.59 388.1 L436.06 389.3 L436.12 390.4 L436.48 389.8 L436.65 392.8 L436.31 392.3 L437.72 390.3 L436.56 392.3 L437.53 393.1 L437.10 391.9 L437.22 394.4 L438.09 395.4 L437.69 395.5 L438.00 395.5 L438.06 395.9 L438.72 396.3 L439.28 396.6 L438.99 399.4 L439.50 397.7 L439.95 398.6 L439.68 399.3 L440.30 398.7 L440.24 400.3 L440.43 399.3 L440.25 401.4 L441.25 401.7 L440.83 399.7 L440.20 400.9 L441.07 402.3 L441.00 403.0 L440.74 403.5 L441.16 402.5 L441.24 404.4 L442.43 403.4 L441.88 404.5 L441.90 405.3 L442.20 406.3 L442.50 406.7 L442.18 407.9 L443.54 406.3 L443.22 408.1 L443.28 409.9 L442.60 409.2 L443.73 408.1 L443.71 410.8 L442.83 409.0 L443.31 410.1 L443.52 411.8 L443.81 413.7 L444.53 412.1 L443.99 413.4 L445.22 414.4 L444.52 412.9 L444.01 413.5 L445.17 415.7 L445.21 416.5 L445.17 414.1 L444.87 415.9 L445.76 415.9 L446.37 417.2 L445.75 418.0 L445.21 418.9 L446.64 419.8 L445.89 419.5 L446.06 421.7 L446.03 420.3 L446.32 419.6 L447.64 422.4 L446.86 421.4 L447.74 422.2 L447.34 421.3 L448.00 423.2 L448.41 423.6 L448.45 424.3 L447.61 423.4 L448.19 425.5 L448.53 425.5 L448.52 426.6 L448.97 428.0 L449.34 427.6 L449.38 428.6 L449.12 426.3 L449.50 428.5 L450.13 430.6 L450.58 429.7 L450.58 428.8 L451.75 429.1 L451.75 430.0 L452.55 429.9 L452.69 429.5 L451.59 429.0 L452.28 429.7 L452.33 428.7 L452.42 426.7 L451.98 425.4 L452.34 425.1 L452.61 424.2 L453.55 425.3 L452.83 426.3 L452.86 424.9 L453.04 423.9 L453.18 422.5 L453.25 422.5 L453.64 421.5 L453.25 423.1 L454.11 423.4 L454.29 423.5 L454.93 425.2 L454.49 424.0 L454.75 425.5 L455.54 426.5 L455.46 426.7 L455.13 425.5 L455.46 429.1 L455.49 429.9 L455.35 428.1 L456.29 429.5 L456.45 431.3 L456.04 429.5 L457.17 430.2 L457.00 430.7 L457.66 432.0 L457.33 432.5 L457.59 432.7 L458.37 431.3 L457.45 433.4 L458.15 433.9 L458.78 435.0 L458.60 432.4 L458.18 436.4 L458.84 433.5 L459.04 436.2 L458.89 435.2 L459.25 436.7 L459.79 436.5 L459.85 437.8 L459.18 434.7 L460.17 435.9 L460.08 434.3 L460.00 434.7 L461.00 433.6 L461.20 433.0 L461.90 433.8 L461.60 433.8 L461.12 435.2 L461.95 434.5 L461.78 436.2 L462.43 436.5 L461.87 434.7 L462.70 435.2 L463.11 437.3 L463.00 437.5 L462.95 438.8 L463.66 439.6 L463.69 439.5 L463.81 438.3 L463.36 439.0 L464.06 440.2 L464.04 441.0 L464.41 440.6 L464.50 442.0 L464.39 441.2 L465.98 441.8 L465.43 441.2 L466.98 442.6 L466.75 441.2 L467.09 440.7 L468.41 440.8 L468.43 440.4 L467.74 440.4 L468.40 438.6 L469.36 439.7 L469.75 439.0 L469.83 441.2 L470.15 440.2 L471.11 440.5 L471.09 441.1 L470.45 442.5 L470.72 442.4 L471.13 442.4 L471.25 442.7 L471.31 442.4 L471.64 443.2 L472.67 442.1 L472.66 441.6 L472.93 441.9 L472.18 441.8 L473.01 441.7 L472.99 437.8 L473.50 439.0 L473.87 438.0 L473.85 438.4 L474.69 440.4 L474.91 439.8 L475.40 440.8 L475.75 441.2 L475.86 441.7 L475.50 442.9 L476.39 442.2 L476.31 442.7 L476.81 443.2 L476.85 444.9 L477.26 444.2 L476.54 444.7 L477.35 445.5 L477.70 445.7 L478.13 444.9 L477.83 444.9 L477.55 442.9 L478.37 444.0 L478.69 443.8 L478.27 442.7 L478.90 441.7 L479.44 441.2 L478.60 440.6 L479.50 441.2 L479.17 440.7 L479.85 442.0 L480.53 440.1 L480.29 439.0 L481.72 437.6 L481.75 439.0 L483.00 440.1 L482.87 437.9 L483.44 439.4 L483.84 439.1 L484.00 439.7 L484.40 440.1 L484.25 440.2 L484.20 439.8 L483.84 439.5 L484.48 437.4 L485.38 436.9 L485.16 437.1 L484.70 437.6 L486.05 434.6 L484.81 435.3 L485.29 434.8 L486.39 435.5 L486.61 432.9 L486.25 433.0 L487.07 432.3 L487.10 433.9 L487.49 432.0 L487.82 431.6 L488.50 433.7 L489.44 431.7 L488.60 432.5 L490.00 433.9 L491.10 432.6 L490.75 433.0 L491.00 433.3 L490.40 431.4 L491.81 432.1 L491.08 430.6 L491.21 430.7 L492.41 430.3 L492.43 431.4 L492.85 429.6 L492.65 430.4 L493.00 428.5 L492.91 426.8 L493.09 426.3 L493.81 427.0 L493.93 426.8 L494.29 425.8 L494.65 426.6 L494.46 426.7 L494.80 424.7 L495.87 424.8 L495.74 425.6 L496.36 425.3 L495.96 425.5 L496.75 426.2 L496.87 426.6 L497.20 428.0 L497.56 427.7 L497.70 428.4 L498.25 428.5 L497.93 429.2 L498.47 427.3 L499.02 427.9 L499.12 427.3 L499.05 425.7 L499.54 425.7 L500.14 425.9 L500.21 426.2 L500.50 424.7 L500.33 424.4 L501.14 425.6 L501.32 428.0 L502.25 428.2 L502.23 425.8 L502.54 428.4 L502.63 427.7 L502.47 427.6 L502.75 428.5 L503.78 428.1 L503.77 427.4 L503.43 427.3 L504.30 427.0 L504.61 425.6 L504.33 425.2 L505.00 425.5 L505.12 425.3 L504.78 423.6 L505.74 424.2 L505.93 423.3 L506.23 421.8 L506.40 423.4 L506.50 422.5 L506.91 421.5 L507.68 421.9 L507.73 421.7 L508.34 420.3 L508.18 421.8 L508.75 420.2 L509.12 420.5 L508.74 419.4 L508.75 420.8 L509.60 418.9 L509.83 419.3 L510.49 417.8 L510.29 417.8 L510.91 417.6 L511.00 416.5 L511.12 417.9 L511.49 417.3 L512.07 416.9 L512.85 418.6 L512.76 418.3 L512.88 420.2 L513.25 419.5 L513.75 419.4 L513.76 418.5 L514.67 420.2 L514.55 418.8 L515.50 418.7 L516.34 418.5 L515.89 416.8 L517.19 418.8 L517.00 417.2 L516.98 419.3 L517.11 418.8 L517.47 419.2 L518.35 419.4 L517.93 420.0 L518.33 420.2 L518.51 420.1 L519.26 421.7 L518.37 419.5 L519.39 420.8 L519.25 422.5 L519.49 424.1 L520.02 421.7 L519.66 419.0 L519.95 418.5 L519.86 419.6 L519.98 420.0 L520.37 420.2 L521.34 419.0 L521.06 417.7 L521.35 416.8 L521.07 418.2 L521.82 417.7 L521.34 417.6 L521.50 415.7 L522.31 415.3 L522.01 413.5 L522.85 415.1 L523.00 414.2 L523.90 416.6 L523.58 415.5 L523.54 414.3 L523.73 416.4 L524.26 416.7 L524.00 416.2 L524.88 415.8 L523.96 417.0 L524.76 419.3 L524.90 420.0 L525.25 419.5 L525.91 421.9 L526.05 420.4 L526.69 420.4 L526.58 423.0 L527.36 420.3 L527.50 421.7 L527.23 422.4 L527.75 420.2 L528.66 421.0 L528.34 419.3 L528.31 420.3 L529.37 419.8 L529.75 418.7 L530.36 420.3 L530.07 417.3 L530.11 417.2 L530.99 417.1 L530.73 415.1 L531.33 417.7 L531.25 415.7 L531.11 414.5 L530.97 413.9 L531.81 415.5 L531.39 413.1 L531.93 413.0 L532.13 414.6 L532.91 412.5 L532.60 412.6 L533.40 409.4 L532.85 411.6 L533.20 410.5 L532.96 410.9 L532.89 410.5 L533.82 412.4 L534.06 412.5 L533.94 413.3 L534.26 412.4 L534.42 414.9 L534.12 415.4 L534.94 413.7 L534.68 414.5 L534.73 415.4 L534.65 415.8 L535.00 416.5 L536.07 415.1 L534.89 417.6 L535.52 416.9 L535.49 417.5 L537.25 419.2 L537.22 418.8 L537.25 419.5 L537.14 419.7 L537.34 420.0 L538.23 417.8 L538.75 418.0 L539.12 418.9 L539.08 417.1 L539.74 417.0 L540.60 417.2 L540.38 416.9 L540.70 415.7 L541.49 416.1 L541.02 416.9 L541.80 419.0 L541.31 418.2 L541.94 417.5 L542.06 418.2 L541.89 418.3 L542.07 420.0 L542.32 420.3 L541.90 419.4 L542.50 421.0 L543.66 420.7 L543.04 420.6 L543.86 419.9 L544.08 421.6 L544.75 420.2 L545.07 421.2 L544.88 420.7 L545.22 421.3 L545.06 422.5 L546.30 423.5 L546.83 423.3 L545.83 423.8 L546.93 423.6 L547.00 424.0 L547.02 423.6 L548.12 424.9 L548.28 424.3 L548.61 424.5 L549.71 425.2 L549.75 425.5 L549.94 423.5 L550.52 426.2 L551.04 424.4 L550.56 422.8 L550.79 421.7 L552.01 423.2 L552.00 422.5 L552.03 421.6 L552.84 422.0 L552.16 421.4 L552.40 420.2 L553.50 420.2 L553.42 420.9 L554.59 420.4 L554.44 422.8 L554.57 422.2 L554.73 421.8 L554.66 424.6 L555.31 422.5 L555.82 424.5 L555.75 424.0 L556.15 423.2 L556.17 424.0 L556.91 424.5 L557.72 425.5 L558.00 424.7 L558.41 423.6 L558.50 423.6 L559.54 423.1 L558.83 422.8 L560.19 422.1 L560.25 422.5 L560.34 424.5 L561.12 422.1 L561.75 422.5 L562.09 421.6 L562.23 423.4 L562.21 425.9 L562.82 425.2 L562.46 424.2 L563.15 426.8 L562.64 425.9 L563.25 426.2 L563.96 427.4 L564.82 428.8 L564.75 427.0 L565.30 428.1 L565.44 427.7 L566.19 428.2 L566.97 428.8 L567.00 428.5 L567.11 428.4 L568.25 428.4 L568.13 426.4 L568.49 427.3 L568.57 426.9 L569.58 425.8 L569.25 425.5 L569.00 426.8 L570.02 422.6 L569.95 423.5 L570.59 422.1 L570.75 423.2 L570.92 422.8 L572.30 423.4 L572.33 423.6 L572.25 421.7 L572.81 421.8 L573.30 422.6 L573.14 423.7 L573.17 424.1 L573.75 424.0 L574.66 425.2 L574.61 424.5 L575.08 423.6 L574.64 426.6 L575.40 427.9 L575.15 424.9 L576.00 427.0 L576.46 427.9 L576.52 428.1 L578.07 426.9 L578.25 427.0 L578.96 426.0 L579.28 426.0 L580.40 426.4 L580.35 424.6 L580.50 425.5 L580.28 426.4 L581.73 424.7 L580.34 425.2 L580.69 423.6 L581.29 423.7 L581.46 422.4 L582.00 422.5 L582.21 422.5 L582.69 421.0 L582.84 422.0 L582.91 422.4 L583.95 421.0 L584.16 421.7 L584.42 423.2 L584.51 421.2 L585.63 424.2 L585.75 422.5 L586.07 421.7 L587.24 422.2 L586.31 423.8 L587.91 423.9 L588.00 424.0 L588.63 423.7 L588.98 423.3 L589.07 423.3 L589.86 423.1 L590.25 422.5 L590.48 422.7 L591.35 422.0 L591.75 423.2 L591.40 423.9 L593.18 422.4 L592.82 423.7 L593.17 424.0 L594.00 422.5 L594.89 422.2 L594.19 423.0 L594.02 422.3 L594.49 423.2 L595.09 423.1 L594.58 425.0 L595.24 425.2 L594.93 427.8 L595.85 428.4 L595.48 428.6 L595.50 427.7 L596.25 413.5 L596.59 411.5 L596.48 412.1 L596.36 410.2 L596.19 411.8 L597.28 411.4 L596.43 410.8 L595.97 412.1 L597.01 408.7 L596.12 408.5 L597.32 408.9 L597.65 407.3 L597.61 408.1 L597.22 405.6 L598.08 408.3 L597.37 407.5 L597.21 405.9 L597.25 406.3 L596.80 404.8 L598.37 402.7 L597.75 403.7 L597.96 403.3 L597.99 400.7 L597.54 404.3 L598.19 399.7 L598.29 400.7 L597.97 399.5 L598.87 399.0 L599.07 399.7 L599.11 398.2 L599.03 398.3 L599.14 399.2 L599.25 397.7 L598.70 397.9 L599.76 398.8 L599.52 398.6 L599.13 398.0 L600.26 400.7 L599.20 400.4 L599.34 400.9 L600.81 401.5 L600.09 402.6 L600.10 403.8 L600.43 403.6 L599.87 404.2 L600.90 405.0 L599.85 402.7 L600.75 405.2 L601.58 403.9 L601.50 404.3 L601.83 404.4 L601.49 402.7 L602.21 403.3 L602.35 403.0 L602.89 401.5 L602.70 401.5 L603.21 402.5 L603.27 400.4 L603.05 400.9 L603.10 402.8 L603.02 403.5 L603.36 404.7 L602.51 404.2 L603.61 404.7 L603.66 405.1 L603.20 406.1 L604.32 408.2 L603.75 407.5 L604.03 407.8 L603.83 409.4 L605.10 408.0 L604.75 410.2 L605.25 409.7 L605.52 409.5 L605.32 409.3 L604.85 411.0 L606.09 412.3 L605.35 413.3 L605.73 411.5 L606.98 411.9 L606.19 412.8 L606.45 414.2 L606.70 414.0 L606.16 414.7 L606.72 413.6 L606.79 411.1 L607.44 410.3 L607.27 410.5 L606.69 412.1 L607.06 409.3 L607.44 408.7 L606.85 409.4 L607.51 408.1 L607.96 406.8 L607.28 407.0 L608.07 406.3 L607.50 406.7 L608.39 408.0 L608.29 408.2 L608.89 409.6 L609.23 408.7 L609.49 409.4 L609.75 409.0 L609.49 409.2 L609.98 411.8 L610.59 408.1 L611.74 412.5 L611.73 410.3 L612.00 411.2 L611.43 411.7 L612.57 411.8 L612.20 413.8 L612.27 411.0 L613.16 413.8 L613.41 414.1 L613.03 414.0 L613.95 415.3 L614.52 415.9 L614.25 415.7 L613.70 414.1 L615.55 413.1 L615.16 413.6 L615.54 414.1 L615.29 415.7 L615.51 413.1 L616.21 413.1 L616.78 411.4 L616.50 412.0 L616.78 412.7 L616.62 410.9 L617.08 408.9 L616.73 409.1 L616.67 410.6 L617.49 408.6 L616.97 410.5 L617.10 409.3 L617.66 408.1 L617.98 406.0 L617.70 408.5 L617.32 406.5 L617.92 407.6 L618.00 405.2 L618.51 404.4 L618.13 404.7 L619.16 404.6 L618.56 409.2 L618.79 407.0 L619.45 407.5 L619.03 410.1 L618.91 409.5 L619.81 411.1 L620.66 409.3 L620.25 410.5 L621.00 400.0 L621.75 392.5 L622.67 392.0 L623.16 392.9 L622.90 390.6 L623.17 391.4 L623.34 392.2 L624.00 390.2 L624.74 390.8 L624.00 387.3 L624.37 388.0 L624.71 388.9 L624.79 388.1 L625.36 387.5 L625.05 387.9 L625.25 386.5 L625.18 386.0 L625.95 385.7 L626.35 387.2 L625.93 386.6 L626.07 386.7 L627.12 386.1 L626.10 390.2 L626.95 387.4 L626.22 389.7 L627.20 387.6 L627.68 388.0 L627.27 390.1 L627.14 391.1 L627.37 391.4 L627.58 393.3 L627.75 392.5 L627.68 392.9 L627.74 392.8 L628.91 393.9 L628.41 395.5 L628.86 396.6 L628.53 395.5 L628.83 394.7 L628.24 395.9 L629.79 395.4 L629.35 397.4 L629.11 397.9 L629.87 398.6 L629.78 398.3 L629.53 400.1 L629.56 399.7 L630.00 400.0 L630.30 400.3 L630.59 400.6 L631.23 400.8 L631.44 397.9 L632.25 398.5 L632.07 398.7 L633.10 399.4 L632.18 397.5 L632.63 396.5 L633.25 394.1 L633.04 397.6 L633.93 395.8 L633.45 393.5 L633.75 394.0 L634.44 394.5 L634.84 393.3 L635.25 394.7 L635.71 394.1 L635.18 392.1 L635.36 392.7 L635.32 393.5 L635.37 394.3 L636.14 392.6 L635.73 392.2 L635.79 389.9 L636.02 390.9 L636.28 390.3 L635.76 388.3 L636.02 390.2 L637.03 386.6 L636.00 386.9 L636.45 387.2 L636.14 388.7 L637.15 387.3 L637.66 387.8 L637.80 389.2 L637.16 389.7 L637.19 389.4 L637.41 390.0 L637.05 391.7 L636.90 390.5 L637.80 393.4 L637.95 392.3 L638.24 393.8 L638.25 393.2 L638.63 394.3 L639.13 393.4 L640.04 391.8 L639.65 392.2 L640.50 394.0 L640.65 394.2 L641.45 393.9 L641.45 394.5 L641.83 391.8 L641.13 390.7 L641.21 392.1 L641.28 390.5 L640.76 391.5 L642.11 390.9 L642.05 389.1 L642.40 387.7 L641.72 390.2 L642.20 389.1 L642.16 386.9 L641.98 386.5 L643.28 384.8 L642.75 385.7 L643.06 386.2 L643.11 387.0 L642.63 385.6 L643.49 388.3 L642.95 387.0 L643.53 387.5 L643.36 389.5 L643.57 388.9 L643.22 390.1 L643.34 390.9 L643.94 392.0 L644.01 390.8 L643.58 392.1 L643.95 392.5 L643.64 391.9 L644.81 391.9 L644.78 394.6 L645.53 393.9 L645.75 394.0 L646.50 403.7 L647.05 404.9 L647.56 405.8 L647.78 404.1 L647.93 403.2 L648.61 405.6 L648.75 406.0 L649.64 405.7 L649.54 407.4 L650.54 405.4 L651.00 406.0 L651.36 406.1 L651.13 406.0 L652.37 405.4 L652.37 405.3 L652.50 403.7 L653.11 403.5 L652.76 403.7 L653.83 403.1 L654.30 403.7 L654.04 403.7 L654.38 404.5 L654.62 405.3 L655.16 405.9 L655.04 406.3 L654.19 405.4 L655.37 406.7 L654.97 407.3 L655.69 406.8 L655.54 408.1 L655.78 410.2 L655.62 411.6 L656.07 411.0 L655.92 409.9 L655.61 410.5 L655.82 411.8 L656.25 412.0 L656.29 413.3 L656.95 410.7 L657.27 410.3 L657.01 409.9 L657.40 408.1 L658.25 409.7 L658.75 411.7 L658.71 410.8 L659.33 410.9 L659.22 410.0 L660.36 411.0 L660.65 411.2 L660.50 412.7 L661.75 412.0 L661.41 412.1 L662.20 413.2 L661.87 412.5 L662.75 411.2 L663.64 412.0 L662.98 410.3 L663.80 408.8 L663.61 409.8 L664.47 407.8 L664.03 409.6 L664.25 408.2 L664.04 409.3 L664.18 408.2 L664.64 408.2 L664.75 407.5 L665.54 406.2 L665.29 404.3 L665.76 403.9 L665.43 403.6 L665.75 403.7 L666.72 403.5 L666.74 402.7 L667.25 403.7 L668.30 412.7 L668.47 412.1 L669.02 411.3 L668.85 412.0 L669.39 411.8 L670.25 411.2 L671.50 411.0 L671.12 409.7 L671.99 410.1 L671.34 409.6 L672.50 409.7 L673.02 408.3 L673.83 410.3 L674.12 409.7 L674.82 409.3 L674.75 410.5 L674.85 410.8 L676.20 411.4 L675.38 410.8 L675.79 411.0 L676.77 412.3 L677.00 412.7 L677.53 412.3 L677.78 413.4 L677.55 410.6 L678.53 411.8 L679.25 411.2 L679.79 410.6 L679.37 411.0 L680.40 409.1 L681.21 409.6 L680.32 408.9 L681.50 409.0 L681.17 410.6 L682.30 408.9 L683.26 409.2 L683.00 411.0 L683.91 410.7 L683.14 412.1 L683.75 412.0 L683.28 413.8 L684.27 412.4 L683.98 413.6 L685.16 415.5 L684.92 413.4 L684.80 414.2 L685.23 416.3 L685.43 415.7 L686.08 415.1 L686.32 416.0 L686.00 417.2 L686.14 417.2 L686.72 419.6 L686.75 417.9 L688.03 419.6 L687.45 420.0 L687.66 418.7 L688.25 420.2 L688.72 420.5 L689.51 420.3 L689.09 420.4 L689.75 421.7 L690.32 421.9 L690.88 420.6 L691.53 419.2 L692.03 422.3 L692.41 420.0 L692.00 419.5 L692.98 419.7 L692.98 419.6 L692.65 420.5 L694.49 419.9 L694.25 420.2 L694.90 418.3 L695.38 421.4 L696.30 420.8 L695.49 421.1 L696.63 419.9 L697.25 421.0 L697.18 421.6 L698.13 421.9 L698.03 420.4 L697.92 423.9 L697.81 423.4 L697.99 424.3 L698.31 423.6 L698.09 424.0 L697.75 425.0 L698.29 426.4 L698.40 425.1 L699.11 425.4 L699.44 427.8 L698.75 427.7 L699.53 427.4 L699.41 427.3 L700.25 428.5 L700.79 428.0 L700.89 428.7 L701.76 428.5 L701.75 427.0 L702.13 426.4 L703.33 426.7 L703.45 427.3 L703.45 429.1 L704.00 428.5 L704.64 427.8 L704.50 427.2 L705.50 427.7 L705.77 427.3 L706.47 428.9 L706.11 427.3 L706.51 428.5 L706.23 430.8 L706.17 432.1 L706.04 430.6 L706.64 430.9 L707.24 432.7 L706.57 432.3 L707.00 433.0 L707.28 432.8 L707.74 432.8 L708.33 432.6 L708.73 433.1 L709.25 433.7 L709.68 432.0 L710.26 433.6 L709.92 432.1 L710.28 430.9 L711.00 431.2 L711.50 431.5 L712.27 430.0 L712.23 430.5 L713.00 432.2 L713.42 432.0 L713.04 435.1 L713.11 433.4 L713.29 434.0 L713.01 436.7 L713.22 435.1 L713.41 436.0 L713.28 436.7 L713.88 438.6 L714.16 435.3 L713.51 437.1 L713.85 438.5 L713.93 439.3 L714.29 439.9 L714.39 439.9 L714.27 439.7 L714.50 440.5 L715.23 441.2 L716.20 440.7 L715.40 442.9 L716.27 442.6 L716.75 442.0 L717.00 442.2 L717.55 443.4 L718.15 441.9 L719.00 442.0 L719.94 443.5 L719.72 440.6 L720.18 441.9 L720.38 441.1 L721.25 441.2 L721.27 441.6 L722.95 442.3 L723.25 441.4 L722.79 442.2 L723.50 442.0 L723.68 441.7 L724.90 442.1 L725.08 442.8 L725.75 442.0 L726.04 441.4 L726.50 444.2 L725.91 443.2 L727.25 443.4 L727.89 443.4 L727.34 444.2 L728.00 445.0 L728.34 444.2 L728.53 445.0 L729.09 442.5 L730.11 443.9 L730.46 442.2 L730.25 442.7 L730.68 443.7 L730.40 443.0 L731.37 443.3 L731.67 444.6 L731.51 446.2 L732.50 445.2 L731.82 444.8 L732.10 445.8 L732.50 446.5 L732.42 447.0 L732.47 448.1 L732.59 447.3 L733.73 447.3 L733.67 448.9 L734.24 449.5 L734.24 449.1 L735.29 450.0 L734.75 450.2 L735.22 450.5 L735.87 451.4 L736.14 451.7 L735.93 451.5 L736.34 451.6 L736.77 453.7 L737.00 453.2 L737.48 452.9 L737.23 452.6 L738.06 451.8 L738.16 451.8 L738.59 451.3 L739.25 451.0 L739.44 450.5 L740.48 450.9 L740.83 452.1 L740.83 451.5 L741.50 451.7 L741.75 450.9 L742.85 452.2 L742.76 451.4 L743.47 451.2 L743.75 451.0 L744.37 451.1 L744.67 450.9 L745.52 451.3 L746.06 451.0 L746.00 451.7 L746.31 451.6 L747.05 451.5 L747.67 451.3 L747.34 451.0 L748.49 451.5 L749.00 451.0 L749.60 451.5 L750.39 449.4 L750.57 449.7 L751.23 450.9 L751.25 449.5 L751.52 449.4 L752.11 449.6 L751.75 451.1 L752.82 451.5 L752.75 451.7 L753.05 452.1 L753.44 451.4 L754.56 451.2 L755.00 451.7 L755.96 451.9 L755.78 452.2 L756.95 451.6 L756.79 452.4 L757.25 452.5 L757.29 451.9 L757.77 452.5 L758.85 452.3 L758.42 451.7 L759.50 451.7 L760.50 452.1 L759.91 451.7 L760.91 452.7 L761.78 452.1 L761.75 452.5 L762.38 452.5 L762.36 452.6 L762.77 453.0 L763.34 452.4 L764.00 453.2 L764.99 453.7 L765.51 454.0 L765.79 453.9 L766.25 453.2 L766.93 452.8 L767.54 452.4 L767.75 452.5 L768.24 452.0 L768.48 451.5 L768.84 452.0 L769.42 451.0 L769.70 451.0" stroke="#10a8c6" stroke-width="2.9" fill="none" stroke-linejoin="round" stroke-linecap="round"/>
<g text-anchor="end">
<text x="57.3" y="31.3">500</text>
<text x="57.3" y="117.4">400</text>
<text x="57.3" y="203.8">300</text>
<text x="57.3" y="290.2">200</text>
<text x="57.3" y="376.6">100</text>
<text x="57.3" y="463.6">0</text>
</g>
<g text-anchor="middle">
<text x="98" y="489">2011</text>
<text x="189" y="489">2012</text>
<text x="280" y="489">2013</text>
<text x="350" y="489">2014</text>
<text x="412.2" y="489">2015</text>
<text x="475" y="489">2016</text>
<text x="537" y="489">2017</text>
<text x="599" y="489">2018</text>
<text x="661" y="489">2019</text>
<text x="724" y="489">2020</text>
</g>
</svg>
</body></html>
